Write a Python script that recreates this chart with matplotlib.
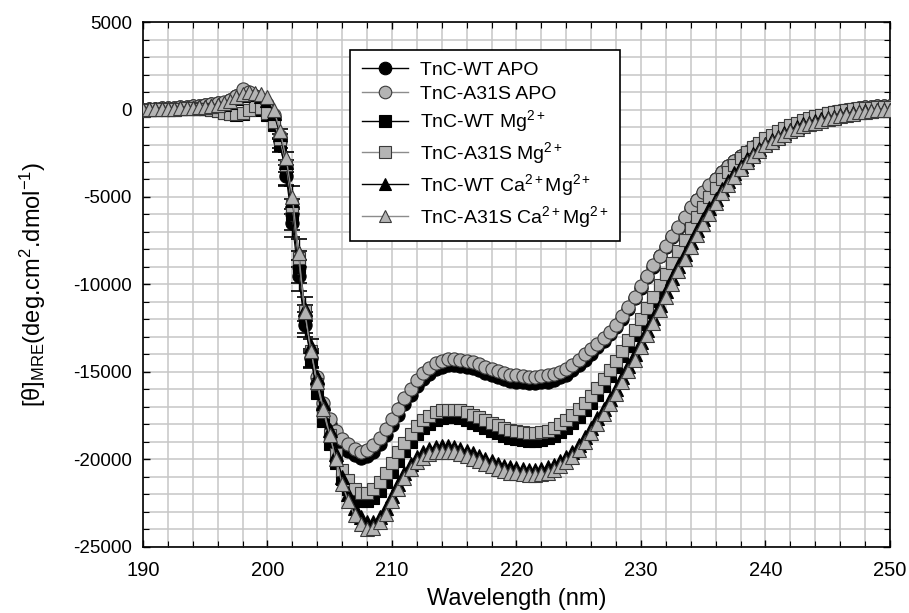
import numpy as np
import matplotlib
matplotlib.use("Agg")
import matplotlib.pyplot as plt
from matplotlib.ticker import MultipleLocator

plt.rcParams['font.family'] = ['Liberation Sans', 'DejaVu Sans']
plt.rcParams['mathtext.fontset'] = 'custom'
plt.rcParams['mathtext.rm'] = 'Liberation Sans'
plt.rcParams['mathtext.it'] = 'Liberation Sans:italic'
plt.rcParams['axes.unicode_minus'] = False

# wavelength grid of the scan (nm), 0.5 nm steps
wavelength = np.arange(190.0, 250.01, 0.5)

# mean residue ellipticity (190 -> 250 nm, 0.5 nm steps)
wt_apo = [0, 20, 40, 60, 80, 100, 120, 150, 180, 210,
          250, 300, 350, 400, 520, 750, 1050, 950, 750, 500,
          200, -500, -1800, -3800, -6500, -9500, -12300, -14200, -15700, -17100,
          -18000, -18700, -19200, -19500, -19750, -19900, -19800, -19550, -19100, -18600,
          -18050, -17450, -16850, -16300, -15800, -15400, -15100, -14850, -14700, -14600,
          -14600, -14650, -14700, -14800, -14900, -15050, -15200, -15300, -15400, -15500,
          -15550, -15600, -15650, -15650, -15600, -15550, -15450, -15300, -15150, -14900,
          -14600, -14300, -13950, -13600, -13250, -12850, -12450, -11950, -11400, -10800,
          -10200, -9600, -9000, -8400, -7850, -7300, -6750, -6200, -5650, -5200,
          -4750, -4350, -3950, -3600, -3250, -2950, -2650, -2400, -2150, -1950,
          -1800, -1600, -1450, -1250, -1100, -920, -750, -600, -450, -350,
          -250, -160, -80, -10, 50, 90, 130, 160, 180, 190,
          200]

a31s_apo = [0, 20, 40, 60, 80, 100, 120, 150, 180, 210,
            250, 300, 350, 420, 550, 800, 1150, 1000, 800, 600,
            300, -300, -1500, -3300, -6000, -9000, -11800, -13800, -15300, -16800,
            -17700, -18400, -18850, -19100, -19400, -19550, -19450, -19200, -18750, -18250,
            -17700, -17100, -16500, -15950, -15450, -15050, -14750, -14500, -14350, -14250,
            -14250, -14300, -14350, -14450, -14550, -14700, -14850, -14950, -15050, -15150,
            -15200, -15250, -15300, -15300, -15250, -15200, -15100, -15000, -14850, -14600,
            -14300, -14000, -13700, -13400, -13050, -12700, -12300, -11800, -11300, -10700,
            -10100, -9500, -8900, -8350, -7800, -7250, -6700, -6150, -5600, -5150,
            -4700, -4300, -3950, -3600, -3250, -2950, -2650, -2400, -2150, -1950,
            -1800, -1600, -1450, -1250, -1100, -920, -750, -600, -450, -350,
            -250, -160, -80, -10, 50, 90, 130, 160, 180, 190,
            200]

wt_mg = [0, 0, 10, 20, 30, 40, 50, 60, 60, 50,
         30, 0, -100, -200, -250, -300, -250, -50, 150, 0,
         -300, -900, -2000, -3600, -6000, -9000, -12000, -14300, -16200, -17800,
         -19100, -20200, -21100, -21700, -22200, -22400, -22400, -22200, -21800, -21300,
         -20700, -20100, -19500, -19000, -18550, -18200, -17950, -17750, -17650, -17600,
         -17600, -17650, -17750, -17900, -18050, -18200, -18350, -18500, -18650, -18750,
         -18850, -18900, -18950, -18950, -18900, -18800, -18650, -18450, -18200, -17900,
         -17550, -17150, -16750, -16300, -15800, -15250, -14700, -14100, -13500, -12900,
         -12250, -11600, -10950, -10250, -9600, -8950, -8250, -7600, -6950, -6300,
         -5700, -5100, -4600, -4100, -3650, -3250, -2850, -2500, -2200, -1950,
         -1700, -1500, -1300, -1100, -950, -800, -650, -520, -400, -310,
         -220, -150, -90, -30, 10, 50, 80, 100, 120, 130,
         130]

a31s_mg = [0, 0, 10, 20, 30, 40, 50, 60, 60, 50,
           30, 0, -100, -200, -250, -250, -200, 0, 200, 100,
           -200, -700, -1700, -3200, -5500, -8500, -11500, -13800, -15700, -17300,
           -18600, -19700, -20600, -21200, -21700, -21900, -21900, -21700, -21300, -20800,
           -20200, -19600, -19050, -18550, -18100, -17750, -17500, -17300, -17200, -17150,
           -17150, -17200, -17300, -17450, -17600, -17750, -17900, -18050, -18200, -18300,
           -18400, -18450, -18500, -18500, -18450, -18350, -18200, -18000, -17750, -17450,
           -17100, -16750, -16350, -15900, -15400, -14900, -14350, -13800, -13200, -12600,
           -12000, -11350, -10700, -10050, -9400, -8750, -8100, -7450, -6800, -6150,
           -5550, -5000, -4500, -4000, -3550, -3150, -2800, -2450, -2150, -1900,
           -1650, -1450, -1250, -1050, -900, -750, -620, -500, -390, -300,
           -210, -140, -80, -20, 20, 60, 90, 110, 130, 140,
           140]

wt_camg = [0, 10, 20, 30, 40, 50, 60, 80, 100, 120,
           150, 200, 250, 330, 450, 650, 850, 950, 900, 800,
           550, -200, -1400, -3000, -5200, -8200, -11400, -13500, -15300, -16800,
           -18300, -19700, -21000, -22000, -22800, -23300, -23550, -23550, -23300, -22800,
           -22100, -21400, -20750, -20250, -19850, -19600, -19400, -19300, -19250, -19250,
           -19300, -19400, -19500, -19650, -19800, -19950, -20100, -20250, -20350, -20450,
           -20500, -20550, -20600, -20600, -20550, -20450, -20300, -20100, -19850, -19550,
           -19150, -18700, -18200, -17650, -17100, -16550, -15950, -15300, -14650, -14000,
           -13300, -12600, -11900, -11150, -10400, -9650, -8950, -8250, -7550, -6900,
           -6250, -5650, -5100, -4550, -4100, -3650, -3250, -2850, -2550, -2250,
           -1950, -1750, -1550, -1350, -1150, -1000, -850, -750, -650, -550,
           -480, -400, -330, -260, -200, -150, -100, -70, -40, -20,
           -10]

a31s_camg = [0, 10, 20, 30, 40, 50, 60, 80, 100, 120,
             150, 200, 250, 350, 500, 700, 900, 1000, 950, 900,
             700, 0, -1200, -2800, -5000, -8200, -11600, -13800, -15600, -17100,
             -18600, -20000, -21400, -22400, -23200, -23700, -23950, -23900, -23600, -23100,
             -22400, -21700, -21050, -20550, -20150, -19900, -19700, -19600, -19550, -19550,
             -19600, -19700, -19800, -19950, -20100, -20250, -20400, -20550, -20650, -20750,
             -20800, -20850, -20900, -20900, -20850, -20750, -20600, -20400, -20150, -19850,
             -19450, -19000, -18500, -17950, -17400, -16850, -16250, -15600, -14950, -14300,
             -13600, -12900, -12200, -11450, -10700, -9950, -9250, -8550, -7850, -7200,
             -6550, -5950, -5350, -4800, -4300, -3850, -3400, -3000, -2650, -2350,
             -2050, -1850, -1650, -1450, -1250, -1100, -950, -850, -750, -650,
             -550, -460, -380, -300, -230, -170, -120, -80, -50, -30,
             -20]

# error bars on the steep part of the WT scans
err_wl = [201.0, 201.5, 202.0, 202.5, 203.0, 203.5]
wt_apo_err = [400, 600, 800, 900, 700, 500]
wt_mg_err = [400, 700, 900, 900, 800, 500]
wt_camg_err = [300, 600, 800, 800, 700, 400]

labels = ['TnC-WT APO', 'TnC-A31S APO',
          'TnC-WT Mg$^{2+}$', 'TnC-A31S Mg$^{2+}$',
          'TnC-WT Ca$^{2+}$Mg$^{2+}$', 'TnC-A31S Ca$^{2+}$Mg$^{2+}$']

fig = plt.figure(figsize=(9.09, 6.13), dpi=100)
ax = fig.add_axes([0.1573, 0.1077, 0.8217, 0.8564])

gray = '#b4b4b4'
series = [
    (wt_apo, 'o', 'black', 'black', 'black', wt_apo_err),
    (a31s_apo, 'o', gray, '#3a3a3a', '#8c8c8c', None),
    (wt_mg, 's', 'black', 'black', 'black', wt_mg_err),
    (a31s_mg, 's', gray, '#3a3a3a', '#8c8c8c', None),
    (wt_camg, '^', 'black', 'black', 'black', wt_camg_err),
    (a31s_camg, '^', gray, '#3a3a3a', '#8c8c8c', None),
]

for (vals, mk, fc, ec, lc, err), lab in zip(series, labels):
    vals = np.array(vals)
    if err is not None:
        idx = [int(round((w - 190.0) / 0.5)) for w in err_wl]
        ax.errorbar(err_wl, vals[idx], yerr=err, fmt='none', ecolor='black',
                    elinewidth=1, capsize=6, capthick=1.2, zorder=3)
    ms = 8.5 if mk == 's' else 9.5
    ax.plot(wavelength, vals, color=lc, lw=1, marker=mk, markersize=ms,
            markerfacecolor=fc, markeredgecolor=ec, markeredgewidth=0.8,
            label=lab, zorder=4)

ax.set_xlim(190, 250)
ax.set_ylim(-25000, 5000)
ax.xaxis.set_major_locator(MultipleLocator(10))
ax.xaxis.set_minor_locator(MultipleLocator(2))
ax.yaxis.set_major_locator(MultipleLocator(5000))
ax.yaxis.set_minor_locator(MultipleLocator(1000))
ax.grid(True, which='both', color='#c6c6c6', lw=1.1, zorder=0)
ax.set_axisbelow(True)
ax.tick_params(which='both', direction='in', top=True, right=True, color='black')
ax.tick_params(which='major', length=5, width=1)
ax.tick_params(which='minor', length=4, width=0.8)
ax.tick_params(axis='x', labelsize=14.5, pad=10)
ax.tick_params(axis='y', labelsize=13.5, pad=8)
for s in ax.spines.values():
    s.set_linewidth(1.2)

ax.set_xlabel('Wavelength (nm)', fontsize=17, labelpad=6)
ax.set_ylabel('[θ]$_{\\mathrm{MRE}}$(deg.cm$^2$.dmol$^{-1}$)', fontsize=17, labelpad=18)

leg = ax.legend(loc='upper left', bbox_to_anchor=(0.277, 0.9467), borderaxespad=0,
                fontsize=14, frameon=True, fancybox=False, edgecolor='black',
                framealpha=1, handlelength=2.4, handletextpad=0.6,
                labelspacing=0.3, borderpad=0.6, markerscale=0.95)
leg.get_frame().set_linewidth(1.2)

fig.savefig('out.png', dpi=100)
